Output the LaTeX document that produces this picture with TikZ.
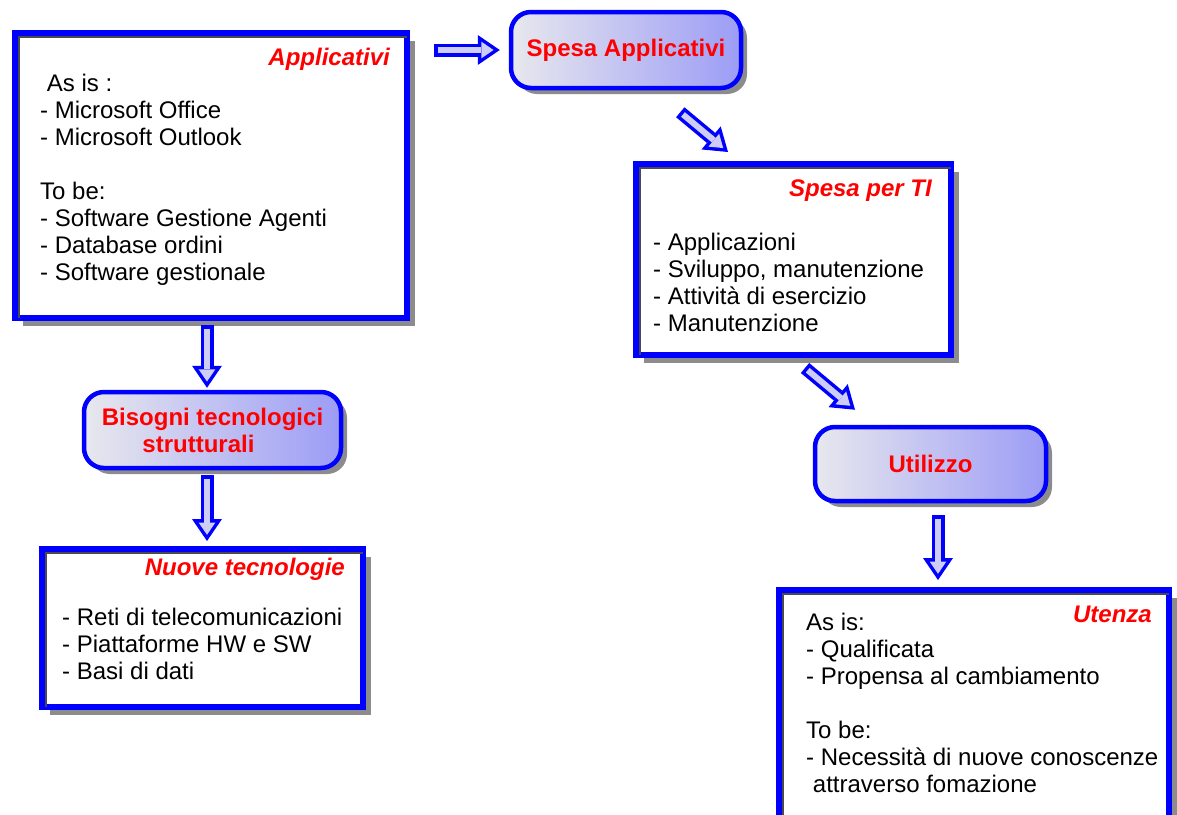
\documentclass[tikz,border=0pt]{standalone}
\usepackage{fontspec}
\setmainfont{Liberation Sans}
\usetikzlibrary{arrows.meta, calc, shadows}
\definecolor{EdgeBlue}{HTML}{0000FF}
\definecolor{TitleRed}{HTML}{FF0000}
\definecolor{FillLeft}{HTML}{E8E8EE}
\definecolor{FillRight}{HTML}{9C9CF6}
\definecolor{ArrowFill}{HTML}{CDCDF5}
\definecolor{Inset}{HTML}{4A4A4A}
\tikzset{
  tbox/.style={draw=EdgeBlue, line width=6pt, fill=white,
    drop shadow={shadow xshift=8pt, shadow yshift=-8pt, fill=black, opacity=0.45},
    postaction={path picture={\draw[Inset, line width=2.5pt]
      ([xshift=4.2pt]path picture bounding box.south west)
      |- ([yshift=-4.2pt]path picture bounding box.north east);}}},
  rbox/.style={draw=EdgeBlue, line width=4.5pt, rounded corners=20pt,
    left color=FillLeft, right color=FillRight, align=center, text=TitleRed,
    drop shadow={shadow xshift=6pt, shadow yshift=-6pt, fill=black, opacity=0.45},
    font=\fontsize{24}{27}\selectfont\bfseries},
  boxtitle/.style={anchor=base east, inner sep=0pt, text=TitleRed,
    font=\fontsize{24}{27}\selectfont\bfseries\itshape},
  boxtext/.style={anchor=base west, align=left, inner sep=0pt,
    font=\fontsize{24}{27}\selectfont},
  barrow/.style={draw=EdgeBlue, line width=13pt,
    -{Triangle[length=22pt, width=30pt, line width=0pt]},
    postaction={draw=ArrowFill, line width=6pt, shorten <=3.5pt, shorten >=6.2pt,
      -{Triangle[length=12.3pt, width=16.8pt, line width=0pt]}}},
}

\begin{document}
\begin{tikzpicture}[x=1pt, y=-1pt]
  \useasboundingbox (0,0) rectangle (1177,814);
  \clip (0,0) rectangle (1177,814);

  % left column
  \node[tbox, minimum width=392pt, minimum height=285pt] (app) at (211,175.5) {};
  \node[boxtitle] (appT) at (390,65) {Applicativi};
  \node[boxtext] (appL) at (40,280) {\hspace*{6.7pt}As is :\\- Microsoft Office\\- Microsoft Outlook\\[27pt]To be:\\- Software Gestione Agenti\\- Database ordini\\- Software gestionale};

  \node[rbox, minimum width=257pt, minimum height=76pt] (bis) at (212.5,430) {Bisogni tecnologici\\strutturali\hspace*{28pt}};

  \node[tbox, minimum width=321pt, minimum height=158pt] (nt) at (202.5,628) {};
  \node[boxtitle] (ntT) at (345,575) {Nuove tecnologie};
  \node[boxtext] (ntL) at (62,679) {- Reti di telecomunicazioni\\- Piattaforme HW e SW\\- Basi di dati};

  % right column
  \node[rbox, minimum width=230pt, minimum height=76pt] (sa) at (626,50) {Spesa Applicativi};

  \node[tbox, minimum width=315pt, minimum height=191pt] (spt) at (793.5,259.5) {};
  \node[boxtitle] (sptT) at (932,196) {Spesa per TI};
  \node[boxtext] (sptL) at (653,331) {- Applicazioni\\- Sviluppo, manutenzione\\- Attività di esercizio\\- Manutenzione};

  \node[rbox, minimum width=231pt, minimum height=74pt] (uti) at (930.5,464) {Utilizzo};

  \node[tbox, minimum width=390pt, minimum height=240pt] (ut) at (974,710) {};
  \node[boxtitle] (utT) at (1152,622) {Utenza};
  \node[boxtext] (utL) at (806,792) {As is:\\- Qualificata\\- Propensa al cambiamento\\[27pt]To be:\\- Necessità di nuove conoscenze\\\hspace*{6.7pt}attraverso fomazione};

  % arrows
  \draw[barrow] ($(app.north east |- sa.west)+(24,0)$) -- ($(sa.west)+(-9,0)$);
  \draw[barrow] ($(sa.south east)+(-63,22)$) -- ($(spt.north west)+(95,-9)$);
  \draw[barrow] ($(spt.south)+(11.5,10)$) -- ($(uti.north)+(-75.5,-15)$);
  \draw[barrow] ($(uti.south)+(7.5,12)$) -- ($(ut.north)+(-36,-7)$);
  \draw[barrow] ($(app.south)+(-4,4)$) -- ($(bis.north)+(-5.5,-2)$);
  \draw[barrow] ($(bis.south)+(-5.5,5)$) -- ($(nt.north)+(4.5,-5)$);
\end{tikzpicture}
\end{document}
